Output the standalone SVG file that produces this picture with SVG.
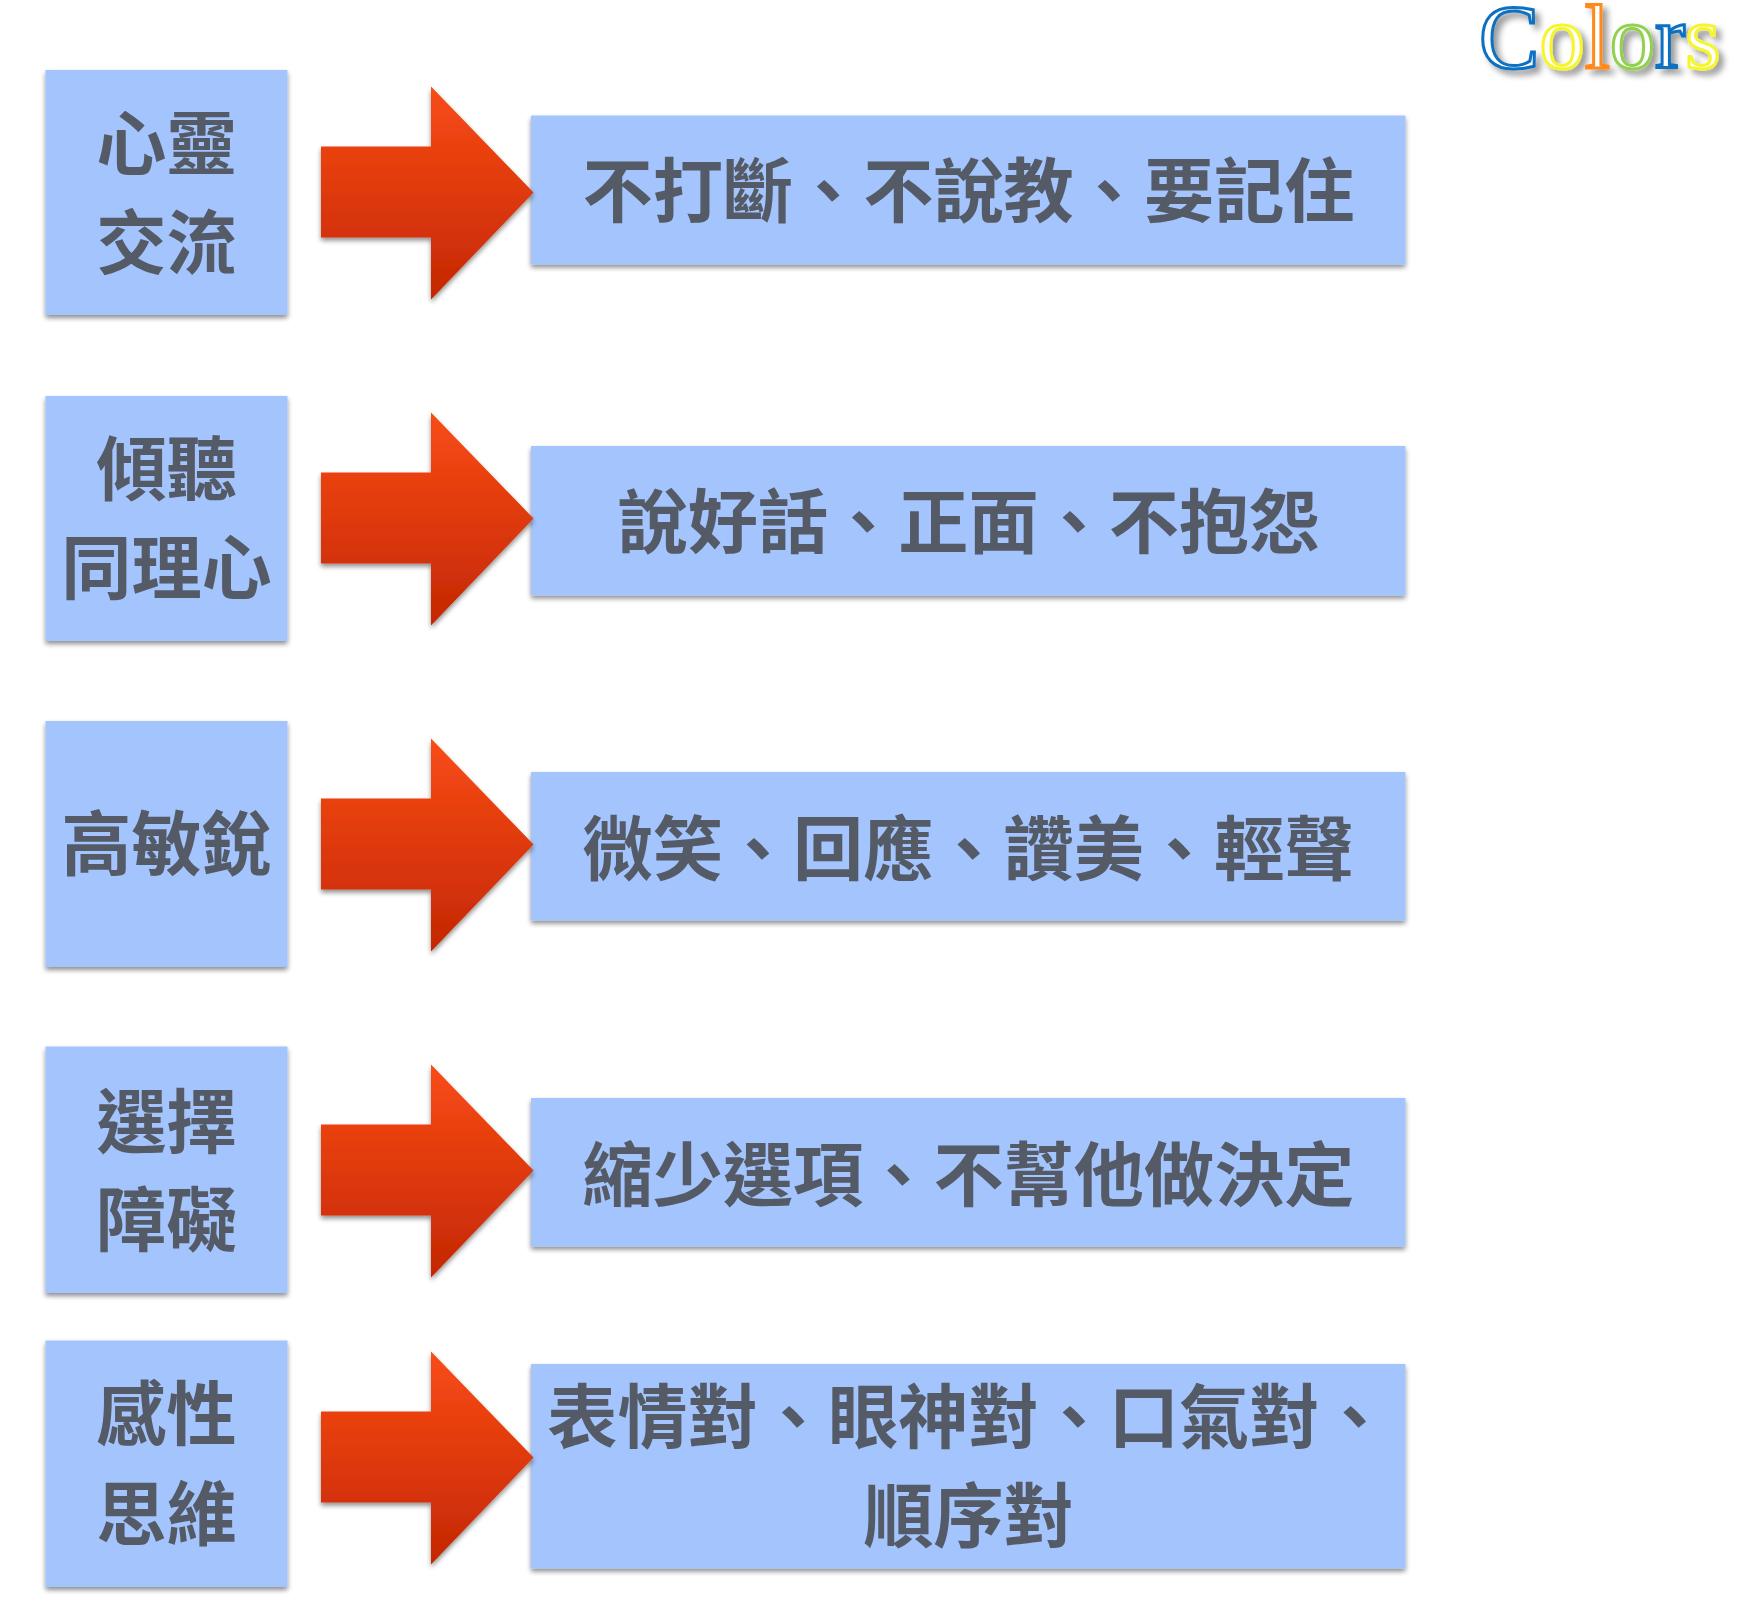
<svg xmlns="http://www.w3.org/2000/svg" xmlns:xlink="http://www.w3.org/1999/xlink" width="1740" height="1608" viewBox="0 0 1740 1608">
<style>
.box{fill:#a3c4fc;filter:url(#sh)}
.t{font-family:"Noto Sans CJK TC","Liberation Sans",sans-serif;font-weight:700;font-size:70.200px;fill:#555b66;text-anchor:middle}
.c{font-family:"Liberation Serif",serif;font-size:90.500px;stroke-width:3px;fill:#fff}
.arrow{fill:url(#g);filter:url(#sh)}
</style>
<defs>
<linearGradient id="g" gradientUnits="objectBoundingBox" x1="0" y1="0" x2="0" y2="1"><stop offset="0" stop-color="#f94c16"/><stop offset="1" stop-color="#c42703"/></linearGradient>
<filter id="sh" x="-10%" y="-10%" width="120%" height="120%"><feGaussianBlur in="SourceAlpha" stdDeviation="2.500"/><feOffset dx="0" dy="3"/><feComponentTransfer><feFuncA type="linear" slope=".45"/></feComponentTransfer><feMerge><feMergeNode/><feMergeNode in="SourceGraphic"/></feMerge></filter>
<filter id="ls" x="-10%" y="-10%" width="130%" height="130%"><feGaussianBlur in="SourceAlpha" stdDeviation="3"/><feOffset dx="5" dy="5"/><feComponentTransfer><feFuncA type="linear" slope=".4"/></feComponentTransfer><feMerge><feMergeNode/><feMergeNode in="SourceGraphic"/></feMerge></filter>
<path id="a" d="M321 146.500H431V86.500L533.500 192.500L431 299.500V237.500H321Z"/>
</defs>
<g id="n1"><rect class="box" x="45.500" y="70" width="242" height="245"/><text class="t" x="166.500" y="170">心靈</text><text class="t" x="166.500" y="269">交流</text></g>
<g id="n2"><rect class="box" x="45.500" y="396" width="242" height="245"/><text class="t" x="166.500" y="495">傾聽</text><text class="t" x="166.500" y="594">同理心</text></g>
<g id="n3"><rect class="box" x="45.500" y="721" width="242" height="246"/><text class="t" x="166.500" y="870">高敏銳</text></g>
<g id="n4"><rect class="box" x="45.500" y="1046.500" width="242" height="246.500"/><text class="t" x="166.500" y="1147.500">選擇</text><text class="t" x="166.500" y="1246">障礙</text></g>
<g id="n5"><rect class="box" x="45.500" y="1340.500" width="242" height="246.500"/><text class="t" x="166.500" y="1440">感性</text><text class="t" x="166.500" y="1540">思維</text></g>
<g id="r1"><rect class="box" x="531" y="115.500" width="874.500" height="149"/><text class="t" x="968.500" y="217">不打斷、不說教、要記住</text></g>
<g id="r2"><rect class="box" x="531" y="446" width="874.500" height="149.500"/><text class="t" x="968.500" y="548">說好話、正面、不抱怨</text></g>
<g id="r3"><rect class="box" x="531" y="772" width="874.500" height="148.500"/><text class="t" x="968.500" y="875">微笑、回應、讚美、輕聲</text></g>
<g id="r4"><rect class="box" x="531" y="1098" width="874.500" height="148.500"/><text class="t" x="968.500" y="1200.500">縮少選項、不幫他做決定</text></g>
<g id="r5"><rect class="box" x="531" y="1364" width="874.500" height="204.500"/><text class="t" x="968.500" y="1443">表情對、眼神對、口氣對、</text><text class="t" x="968.500" y="1542">順序對</text></g>
<g id="connectors">
<use class="arrow" href="#a"/>
<use class="arrow" href="#a" y="326"/>
<use class="arrow" href="#a" y="652"/>
<use class="arrow" href="#a" y="978"/>
<use class="arrow" href="#a" y="1265"/>
</g>
<g id="logo" filter="url(#ls)"><text class="c" x="1479" y="68"><tspan stroke="#0b70c0">C</tspan><tspan stroke="#f5f52e">o</tspan><tspan stroke="#ff8a1c">l</tspan><tspan stroke="#92d050">o</tspan><tspan stroke="#0b70c0">r</tspan><tspan stroke="#f5f52e">s</tspan></text></g>
</svg>
